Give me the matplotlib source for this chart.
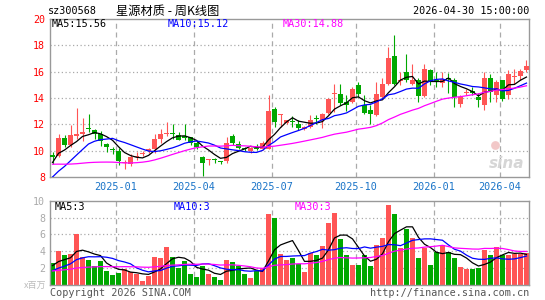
import numpy as np
import pandas as pd
import matplotlib
matplotlib.use("Agg")
import matplotlib.pyplot as plt
from matplotlib.transforms import blended_transform_factory

# ---------------- data (weekly) ----------------
opens = [9.7, 9.6, 11.0, 10.45, 11.1, 11.3, 11.7, 11.55, 11.3, 10.5,
         10.15, 10.0, 9.05, 9.0, 9.55, 9.75, 10.0, 10.1, 10.9, 11.25,
         11.3, 11.2, 11.1, 11.0, 10.6, 9.55, 9.28, 9.32, 9.2, 9.2,
         11.1, 10.5, 10.2, 9.95, 10.2, 10.1, 10.15, 13.2, 12.7, 12.1,
         12.25, 12.05, 11.65, 11.8, 12.45, 12.3, 12.85, 14.3, 14.33, 13.7,
         13.7, 14.95, 13.45, 13.07, 12.7, 14.07, 15.1, 17.2, 15.3, 16.0,
         15.1, 15.4, 14.15, 16.15, 15.35, 15.15, 15.5, 15.33, 13.57, 14.4,
         14.55, 14.1, 13.45, 15.5, 14.2, 15.33, 14.2, 15.6, 15.65, 16.15]
highs = [9.9, 11.3, 11.2, 11.95, 13.25, 12.5, 12.77, 11.65, 11.5, 10.55,
         10.3, 10.2, 9.3, 9.75, 9.9, 10.0, 10.2, 11.25, 11.65, 12.2,
         12.05, 11.4, 12.05, 11.05, 10.7, 9.6, 9.4, 9.45, 9.25, 11.05,
         11.3, 10.7, 10.3, 10.3, 10.5, 10.7, 14.2, 13.3, 12.8, 12.35,
         12.6, 12.3, 11.85, 12.7, 12.7, 12.85, 14.0, 15.1, 15.1, 14.2,
         14.85, 15.2, 14.2, 13.45, 15.2, 15.5, 17.85, 18.8, 15.95, 17.35,
         16.6, 15.5, 16.6, 16.2, 15.95, 15.95, 15.9, 15.5, 14.2, 14.65,
         14.8, 14.35, 15.95, 15.85, 15.37, 15.4, 16.1, 16.2, 16.2, 16.85]
lows = [9.0, 9.55, 10.3, 10.25, 10.9, 10.75, 11.43, 10.9, 10.35, 9.9,
        9.75, 8.9, 8.6, 8.8, 9.3, 9.6, 9.85, 9.85, 10.55, 11.1,
        10.85, 10.8, 10.8, 10.45, 10.15, 8.05, 8.9, 9.1, 8.95, 9.1,
        10.4, 10.1, 10.0, 9.85, 10.05, 10.05, 10.1, 11.8, 11.8, 12.0,
        11.8, 11.55, 11.55, 11.75, 12.05, 11.7, 12.8, 12.95, 13.45, 13.0,
        13.65, 14.05, 12.8, 12.0, 12.6, 13.95, 14.95, 14.95, 14.95, 15.2,
        14.95, 13.7, 14.1, 14.95, 14.85, 14.85, 14.4, 13.35, 13.3, 14.2,
        14.2, 13.3, 13.1, 13.7, 13.7, 13.8, 13.9, 15.1, 15.4, 16.0]
closes = [9.5, 11.0, 10.45, 11.2, 11.3, 11.45, 11.65, 11.3, 10.7, 10.25,
          10.05, 9.2, 9.1, 9.55, 9.6, 9.8, 10.15, 10.9, 11.3, 11.28,
          11.25, 10.8, 11.0, 10.6, 10.25, 9.1, 9.32, 9.28, 9.15, 10.6,
          10.55, 10.2, 10.15, 10.17, 10.15, 10.6, 13.05, 12.2, 12.75, 12.3,
          12.2, 11.75, 11.8, 12.35, 12.4, 12.75, 13.95, 14.33, 13.62, 13.5,
          14.7, 14.27, 12.87, 12.8, 14.27, 15.1, 17.0, 15.1, 15.35, 15.33,
          15.4, 14.15, 16.2, 15.2, 15.3, 15.45, 15.45, 14.07, 14.1, 14.45,
          14.35, 13.82, 15.5, 14.45, 15.25, 13.95, 15.85, 15.66, 16.05, 16.45]
# volume, millions of shares
volumes = [2.6, 4.0, 3.55, 3.7, 6.05, 3.35, 3.0, 2.25, 2.8, 1.65,
           1.2, 1.4, 1.9, 1.5, 1.3, 0.5, 1.1, 3.35, 3.25, 4.5,
           3.35, 2.0, 2.85, 1.3, 1.0, 2.3, 1.35, 1.0, 0.6, 2.95,
           2.75, 2.2, 1.35, 0.85, 1.65, 2.0, 8.4, 8.0, 3.7, 3.0,
           3.25, 2.45, 1.6, 3.75, 3.55, 4.6, 7.4, 8.6, 5.45, 3.55,
           2.35, 2.35, 3.55, 2.3, 4.75, 5.55, 9.5, 8.4, 4.35, 6.7,
           5.55, 3.25, 4.35, 2.35, 3.9, 4.75, 3.95, 3.25, 2.15, 1.9,
           1.9, 2.05, 4.2, 3.55, 4.5, 3.55, 3.5, 3.65, 3.7, 3.75]
# weeks before the visible window (estimated from where the MA lines start)
pre_close = [10.8, 10.6, 10.9, 10.5, 10.2, 10.4, 10.6, 10.3, 10.1, 10.2,
             10.0, 10.2, 9.5, 9.0, 8.6, 8.2, 7.8, 7.4, 7.0, 6.8,
             6.6, 6.8, 6.9, 7.0, 7.2, 7.5, 9.2, 9.5, 9.8]
pre_volume = [1.8, 1.6, 1.5, 1.9, 1.7, 1.4, 1.6, 1.8, 1.5, 1.7,
              1.6, 1.4, 1.9, 1.7, 1.5, 1.6, 1.8, 1.5, 1.6, 1.9,
              1.0, 1.2, 0.9, 1.1, 1.3, 1.6, 2.4, 2.6, 2.3]

month_labels = ['2025-01', '2025-04', '2025-07', '2025-10', '2026-01', '2026-04']
month_first_week = [11, 24, 37, 51, 64, 75]

price_ticks = [8, 10, 12, 14, 16, 18, 20]
vol_ticks = [2, 4, 6, 8, 10]

ma_price_text = ['MA5:15.56', 'MA10:15.12', 'MA30:14.88']
ma_vol_text = ['MA5:3', 'MA10:3', 'MA30:3']

# ---------------- computations ----------------
n = len(closes)
x = np.arange(n)
c_all = pd.Series(pre_close + closes)
v_all = pd.Series(pre_volume + volumes)
ma_p = {k: c_all.rolling(k).mean().values[-n:] for k in (5, 10, 30)}
ma_v = {k: v_all.rolling(k).mean().values[-n:] for k in (5, 10, 30)}

RED = '#ff5555'
GREEN = '#00a800'
GRID = '#aaaaaa'
FRAME = '#999999'
MONO = 'DejaVu Sans Mono'
CJK = ['Noto Sans CJK SC', 'DejaVu Sans']

W, H = 545, 300
fig = plt.figure(figsize=(W / 100, H / 100), dpi=100)
fig.patch.set_facecolor('white')

def fx(px):
    return px / W

def fy(py):
    return 1 - py / H

ax = fig.add_axes([fx(50), fy(177), fx(479), 158 / H])
axv = fig.add_axes([fx(50), fy(285), fx(479), (285 - 200.7) / H])

xlim = (-0.42, n - 1 + 0.42)

for a in (ax, axv):
    a.set_xlim(*xlim)
    for s in a.spines.values():
        s.set_color(FRAME)
        s.set_linewidth(1.0)
    a.set_xticks([])
    for m in month_first_week:
        a.axvline(m - 0.4, color=GRID, lw=0.9, ls=(0, (4, 3)), zorder=0)

# ---------------- price panel ----------------
ax.set_ylim(8, 20)
ax.set_yticks(price_ticks)
ax.set_yticklabels([str(t) for t in price_ticks], color='#ff0000',
                   fontfamily=MONO, fontsize=7.2)
ax.tick_params(axis='y', length=0, pad=3.5)
for t in price_ticks[1:-1]:
    ax.axhline(t, color=GRID, lw=0.9, ls=(0, (1, 2)), zorder=0)

o = np.array(opens); h = np.array(highs); l = np.array(lows); c = np.array(closes)
up = c >= o
cols = np.where(up, RED, GREEN)
ax.vlines(x, l, h, colors=cols, lw=0.8, zorder=2)
body_lo = np.minimum(o, c)
body_h = np.maximum(np.abs(c - o), 0.06)
ax.bar(x, body_h, bottom=body_lo, width=0.75, color=cols, lw=0, zorder=3)

ax.plot(x, ma_p[5], color='black', lw=0.9, zorder=4)
ax.plot(x, ma_p[10], color='#0000ff', lw=0.9, zorder=4)
ax.plot(x, ma_p[30], color='#ff00ff', lw=0.9, zorder=4)

fig.text(fx(52), fy(24), ma_price_text[0], color='black', fontfamily=MONO,
         fontsize=7.3, va='center', ha='left')
fig.text(fx(168), fy(24), ma_price_text[1], color='#0000ff', fontfamily=MONO,
         fontsize=7.3, va='center', ha='left')
fig.text(fx(283), fy(24), ma_price_text[2], color='#ff00ff', fontfamily=MONO,
         fontsize=7.3, va='center', ha='left')

# sina watermark
ax.text(0.99, 0.04, 'sina', transform=ax.transAxes, ha='right', va='bottom',
        fontsize=11, fontweight='bold', style='italic', color='#d6d6d6',
        zorder=1)
ax.scatter([0.93], [0.2], s=40, transform=ax.transAxes, color='#f2c8c8',
           zorder=1, lw=0)

# ---------------- volume panel ----------------
axv.set_ylim(0, 10)
axv.set_yticks(vol_ticks)
axv.set_yticklabels([str(t) for t in vol_ticks], color='#aaaaaa',
                    fontfamily=MONO, fontsize=7.2)
axv.tick_params(axis='y', length=0, pad=3.5)
for t in vol_ticks[:-1]:
    axv.axhline(t, color=GRID, lw=0.9, ls=(0, (1, 2)), zorder=0)
axv.bar(x, volumes, width=0.72, color=cols, lw=0, zorder=2)
axv.plot(x, ma_v[5], color='black', lw=0.9, zorder=4)
axv.plot(x, ma_v[10], color='#0000ff', lw=0.9, zorder=4)
axv.plot(x, ma_v[30], color='#ff00ff', lw=0.9, zorder=4)

fig.text(fx(55), fy(207), ma_vol_text[0], color='black', fontfamily=MONO,
         fontsize=7.3, va='center', ha='left')
fig.text(fx(174), fy(207), ma_vol_text[1], color='#0000ff', fontfamily=MONO,
         fontsize=7.3, va='center', ha='left')
fig.text(fx(295), fy(207), ma_vol_text[2], color='#ff00ff', fontfamily=MONO,
         fontsize=7.3, va='center', ha='left')
fig.text(fx(46), fy(285), 'x百万', color='#bbbbbb', family=CJK,
         fontsize=6.5, va='center', ha='right')

# ---------------- date labels ----------------
tr = blended_transform_factory(ax.transData, fig.transFigure)
for m, lab in zip(month_first_week, month_labels):
    fig.text(m - 0.4, fy(187), lab, transform=tr, color='#1a74c8',
             fontfamily=MONO, fontsize=7.3, ha='center', va='center')

# ---------------- titles ----------------
fig.text(fx(48), fy(11), 'sz300568', color='black', fontfamily=MONO,
         fontsize=7.3, va='center', ha='left')
fig.text(fx(116), fy(11), '星源材质 - 周K线图', color='black', family=CJK,
         fontsize=8.8, va='center', ha='left')
fig.text(fx(529), fy(11), '2026-04-30 15:00:00', color='black', fontfamily=MONO,
         fontsize=7.3, va='center', ha='right')

fig.text(fx(50), fy(293), 'Copyright 2026 SINA.COM', color='#555555',
         fontfamily=MONO, fontsize=7.3, va='center', ha='left')
fig.text(fx(529), fy(293), 'http://finance.sina.com.cn', color='#555555',
         fontfamily=MONO, fontsize=7.3, va='center', ha='right')

fig.savefig('out.png', dpi=100, facecolor='white')
